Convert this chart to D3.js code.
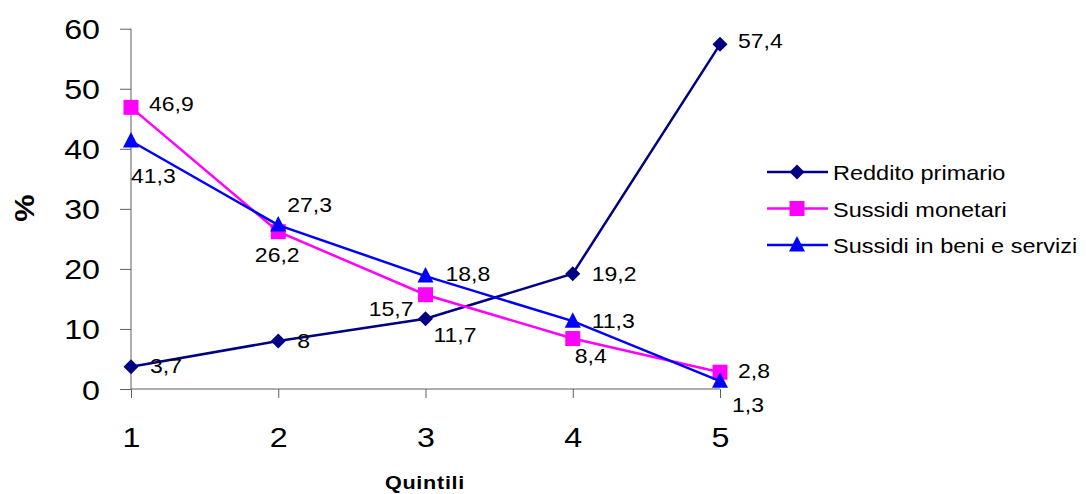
<!DOCTYPE html>
<html>
<head>
<meta charset="utf-8">
<script src="https://cdn.jsdelivr.net/npm/d3@7"></script>
<style>
  html, body { margin: 0; padding: 0; background: #fff; }
  svg { display: block; font-family: "Liberation Sans", Arial, sans-serif; }
</style>
</head>
<body>
<svg id="chart" width="1086" height="494"></svg>
<script>
// Quote di reddito e sussidi per quintile (%)
const quintili = [1, 2, 3, 4, 5];
const redditoPrimario = [3.7, 8, 11.7, 19.2, 57.4];
const sussidiMonetari = [46.9, 26.2, 15.7, 8.4, 2.8];
const sussidiBeniServizi = [41.3, 27.3, 18.8, 11.3, 1.3];
const yTicks = [0, 10, 20, 30, 40, 50, 60];
const seriesNames = ["Reddito primario", "Sussidi monetari", "Sussidi in beni e servizi"];

// Placement of each value label relative to its point: [dx, dy, anchor]
const labelPlacement = [
  [[19, 6, "start"], [19, 7, "start"], [8, 23, "start"], [19, 7, "start"], [18, 4, "start"]],
  [[18, 4, "start"], [-1, 30, "middle"], [-12, 21, "end"], [2, 24, "start"], [18, 6, "start"]],
  [[0, 42, "start"], [9, -13, "start"], [20, 5, "start"], [19, 7, "start"], [12, 31, "start"]]
];

const series = [
  { name: seriesNames[0], values: redditoPrimario, color: "#000080", marker: "diamond" },
  { name: seriesNames[1], values: sussidiMonetari, color: "#FF00FF", marker: "square" },
  { name: seriesNames[2], values: sussidiBeniServizi, color: "#0000FF", marker: "triangle" }
];

const svg = d3.select("#chart");
const x = d3.scaleLinear().domain([1, 5]).range([131, 720]);
const y = d3.scaleLinear().domain([0, 60]).range([389, 28.7]);

const fmt = v => String(v).replace(".", ",");
const SX = 1.15; // horizontal stretch of the chart lettering

function markerPath(type) {
  if (type === "diamond") return "M0,-7.5L7.5,0L0,7.5L-7.5,0Z";
  if (type === "square") return "M-7.5,-7.5H7.5V7.5H-7.5Z";
  return "M0,-9L8,6.5L-8,6.5Z";
}

// Axes
const axisColor = "#606060";
const yAxis = svg.append("g")
  .attr("transform", `translate(${x(1)},0)`)
  .call(d3.axisLeft(y).tickValues(yTicks).tickSize(11).tickPadding(0).tickFormat(d3.format("d")));
const xAxis = svg.append("g")
  .attr("transform", `translate(0,${y(0)})`)
  .call(d3.axisBottom(x).tickValues(quintili).tickSize(9).tickPadding(0).tickFormat(d3.format("d")));

[yAxis, xAxis].forEach(g => {
  g.select(".domain").attr("stroke", axisColor).attr("stroke-width", 1);
  g.selectAll(".tick line").attr("stroke", axisColor).attr("stroke-width", 1);
  g.selectAll(".tick text").attr("fill", "#000").attr("font-size", 28)
    .attr("font-family", "Liberation Sans, Arial, sans-serif");
});
yAxis.select(".domain").attr("d", `M0,${y(60)}V${y(0)}`);
xAxis.select(".domain").attr("d", `M${x(1)},0H${x(5)}`);
yAxis.selectAll(".tick text")
  .attr("x", null).attr("y", null).attr("dy", null)
  .attr("text-anchor", "end")
  .attr("transform", `translate(-31,10) scale(${SX},1)`);
xAxis.selectAll(".tick text")
  .attr("x", null).attr("y", null).attr("dy", null)
  .attr("text-anchor", "middle")
  .attr("transform", `translate(0,58) scale(${SX},1)`);

// Axis titles
svg.append("text")
  .attr("transform", `translate(34,208) rotate(-90) scale(1.1,1)`)
  .attr("text-anchor", "middle")
  .attr("font-size", 28).attr("font-weight", "bold")
  .text("%");
svg.append("text")
  .attr("transform", `translate(425,489) scale(1.2,1)`)
  .attr("text-anchor", "middle")
  .attr("font-size", 18).attr("font-weight", "bold")
  .attr("letter-spacing", 0.6)
  .text("Quintili");

// Series lines and markers
const line = d3.line().x((d, i) => x(quintili[i])).y(d => y(d));
series.forEach(s => {
  const g = svg.append("g");
  g.append("path")
    .attr("d", line(s.values))
    .attr("fill", "none")
    .attr("stroke", s.color)
    .attr("stroke-width", 2.5);
  g.selectAll("path.mk").data(s.values).enter().append("path")
    .attr("class", "mk")
    .attr("d", markerPath(s.marker))
    .attr("transform", (d, i) => `translate(${x(quintili[i])},${y(d)})`)
    .attr("fill", s.color);
});

// Value labels
series.forEach((s, si) => {
  svg.append("g").selectAll("text").data(s.values).enter().append("text")
    .attr("transform", (d, i) => {
      const p = labelPlacement[si][i];
      return `translate(${x(quintili[i]) + p[0]},${y(d) + p[1]}) scale(${SX},1)`;
    })
    .attr("text-anchor", (d, i) => labelPlacement[si][i][2])
    .attr("font-size", 20)
    .attr("fill", "#000")
    .text(d => fmt(d));
});

// Legend
const legend = svg.append("g");
series.forEach((s, i) => {
  const ly = 172 + i * 36.5;
  legend.append("line")
    .attr("x1", 767).attr("x2", 828).attr("y1", ly).attr("y2", ly)
    .attr("stroke", s.color).attr("stroke-width", 2.5);
  legend.append("path")
    .attr("d", markerPath(s.marker))
    .attr("transform", `translate(797,${ly})`)
    .attr("fill", s.color);
  legend.append("text")
    .attr("transform", `translate(833,${ly + 8}) scale(1.12,1)`)
    .attr("font-size", 21)
    .attr("fill", "#000")
    .text(s.name);
});
</script>
</body>
</html>
